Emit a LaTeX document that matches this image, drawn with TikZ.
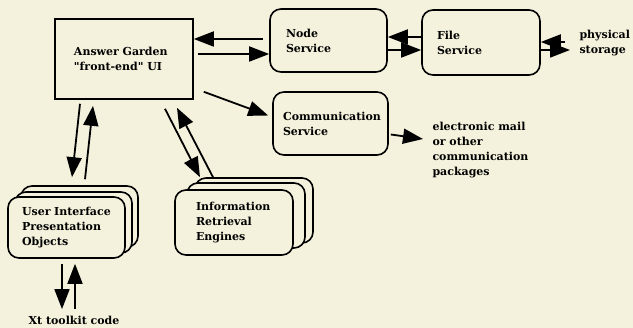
\documentclass[tikz,border=0pt]{standalone}
\usepackage{fontspec}
\setmainfont{DejaVu Serif}[Ligatures=TeXOff]
\usetikzlibrary{arrows.meta,calc}
\definecolor{paper}{RGB}{244,242,220}

\begin{document}
\begin{tikzpicture}[x=1pt,y=-1pt,
  font=\fontsize{11}{15}\selectfont\bfseries,
  arr/.style={line width=1.8pt,-{Triangle[length=20pt,width=15pt]}},
  agbox/.style={draw,line width=1.6pt,fill=paper,align=left,inner ysep=0pt},
  svc/.style={agbox,rounded corners=11pt},
  uicard/.style={svc,minimum width=117pt,minimum height=61pt,text width=89pt,inner xsep=14pt},
  ircard/.style={svc,minimum width=118pt,minimum height=65pt,text width=76pt,inner xsep=21pt}]

\useasboundingbox[fill=paper] (0,0) rectangle (633,328);

% main boxes
\node[agbox,minimum width=138pt,minimum height=80pt,text width=100pt,inner xsep=19pt] (ag) at (124,59) {Answer Garden\\"front-end" UI};
\node[svc,minimum height=63pt,text width=85pt,inner xsep=16pt] (nsv) at (328.5,40.5) {Node\\Service};
\node[svc,minimum height=65pt,text width=88pt,inner xsep=15pt] (fsv) at (481,42.5) {File\\Service};
\node[svc,minimum height=63pt,text width=95pt,inner xsep=10pt] (csv) at (330.5,123.5) {Communication\\Service};

% stacked cards
\node[uicard] (uib) at (79.5,216.5) {};
\node[uicard] (uim) at (73.5,222.5) {};
\node[uicard] (uif) at (66.5,227.5) {User Interface\\Presentation\\Objects};

\node[ircard] (irb) at (254,210.5) {};
\node[ircard] (irm) at (246,215.5) {};
\node[ircard] (irf) at (234,222.5) {Information\\Retrieval\\Engines};

% plain labels
\node[anchor=west,align=left] (phys) at (576,43) {physical\\storage};
\node[anchor=north west,align=left] (mail) at (429,119) {electronic mail\\or other\\communication\\packages};
\node[anchor=base] (xt) at (74,325) {Xt toolkit code};

% arrows
\draw[arr] ([xshift=-6pt]nsv.west |- 0,39) -- (ag.east |- 0,39);
\draw[arr] ($(ag.east)+(4,-5)$) -- (nsv.west |- 0,54);
\draw[arr] (fsv.west |- 0,37) -- (nsv.east |- 0,37);
\draw[arr] (nsv.east |- 0,50) -- (fsv.west |- 0,50);
\draw[arr] ($(phys.west)+(-11,-1)$) -- (fsv.east |- 0,42);
\draw[arr] (fsv.east |- 0,50) -- ($(phys.west)+(-6,7)$);
\draw[arr] ($(ag.south east)+(10,-8)$) -- ($(csv.west)+(-4,-8)$);
\draw[arr] ($(csv.east)+(2,11)$) -- ($(mail.north west)+(-6,20)$);
\draw[arr] ($(ag.south)+(-44,4)$) -- ($(uib.north)+(-7.5,-8)$);
\draw[arr] ($(uib.north)+(5.5,-6)$) -- ($(ag.south)+(-31,6)$);
\draw[arr] ($(ag.south)+(41,9)$) -- ($(irb.north)+(-54,0)$);
\draw[arr] ($(irb.north)+(-41,0)$) -- ($(ag.south)+(53,8)$);
\draw[arr] ($(uif.south)+(-4.5,5)$) -- ($(xt.north)+(-12,-4)$);
\draw[arr] ($(xt.north)+(1,-4)$) -- ($(uif.south)+(8.5,5)$);

\end{tikzpicture}
\end{document}
